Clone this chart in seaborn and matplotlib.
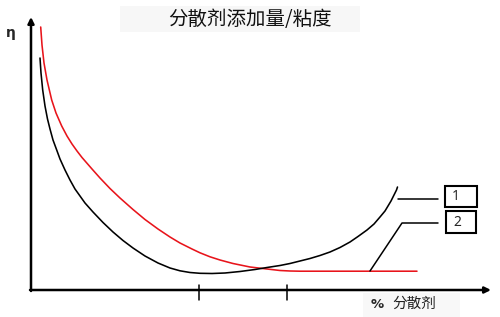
import matplotlib
matplotlib.use("Agg")
import matplotlib.pyplot as plt
import seaborn as sns
import pandas as pd
from matplotlib.patches import Rectangle

sns.set_style("white")
plt.rcParams['font.family'] = ['Noto Sans CJK SC', 'DejaVu Sans']

# Curve 1 (black) (pixel-like units, y downward)
black_x = [40, 41, 42.7, 45, 47.5, 50, 53, 56.7, 60, 65, 70, 75, 85, 93, 103, 113, 123, 133, 145,
           158, 170, 180, 190, 200, 212, 225, 240, 255, 267, 280, 290, 300, 310, 320, 330, 340,
           350, 358, 367, 374, 380, 385, 388, 391, 393, 395, 396.5, 397.5]
black_y = [58, 73, 90, 106, 119, 129, 140, 150, 159, 170, 180, 189, 203, 212, 222.5, 232, 240.5, 248, 256,
           263, 268, 270.8, 272.5, 273.3, 273.5, 273, 271.5, 269.5, 267.5, 265.5, 263.5, 261, 258.5, 255.5, 252, 247.5,
           242, 236.5, 230, 224, 217, 211, 206, 201, 197, 193, 190, 187]
# Curve 2 (red)
red_x = [40.7, 42, 44, 47, 51.7, 56, 61.7, 67, 72, 77, 82, 92, 100, 110, 120, 133, 145, 158, 170,
         180, 192, 200, 210, 220, 233, 250, 267, 280, 290, 300, 417]
red_y = [27, 45, 63, 80, 100, 113, 126, 136, 144, 151, 157.5, 169, 178, 188.5, 198, 209.5, 219.5, 229, 237,
         243, 249, 252.8, 256.8, 260, 263.5, 267, 269, 270.5, 271, 271.2, 271.2]

title = "分散剂添加量/粘度"
y_label = "η"
x_label_pct = "%"
x_label = "分散剂"
legend_labels = ["1", "2"]

fig = plt.figure(figsize=(5.0, 3.17), dpi=100)
ax = fig.add_axes([0, 0, 1, 1])

df1 = pd.DataFrame({"x": black_x, "y": black_y})
df2 = pd.DataFrame({"x": red_x, "y": red_y})
sns.lineplot(data=df2, x="x", y="y", sort=False, color="#e8141b", lw=1.15, ax=ax)
sns.lineplot(data=df1, x="x", y="y", sort=False, color="black", lw=1.15, ax=ax)
ax.set_xlim(0, 500)
ax.set_ylim(317, 0)
ax.axis("off")

# axes arrows
ax.annotate("", xy=(31, 17), xytext=(31, 291),
            arrowprops=dict(arrowstyle="-|>", lw=1.8, color="black", mutation_scale=9, shrinkA=0, shrinkB=0))
ax.annotate("", xy=(491, 290), xytext=(30, 290),
            arrowprops=dict(arrowstyle="-|>", lw=1.8, color="black", mutation_scale=9, shrinkA=0, shrinkB=0))
# ticks
for tx in (199, 287):
    ax.plot([tx, tx], [285, 300], color="black", lw=1.1)

# leader lines
ax.plot([398, 438], [199, 199], color="black", lw=1.1)
ax.plot([370, 402, 438], [271, 223, 223], color="black", lw=1.1)
# legend boxes
ax.add_patch(Rectangle((445, 186), 32, 21, fill=False, ec="black", lw=1.5))
ax.add_patch(Rectangle((446, 211), 30, 22, fill=False, ec="black", lw=1.5))
ax.text(456, 197, legend_labels[0], fontsize=10, ha="center", va="center", family=["Noto Sans", "DejaVu Sans"])
ax.text(457, 222, legend_labels[1], fontsize=10, ha="center", va="center", family=["Noto Sans", "DejaVu Sans"])

# title with light background
ax.add_patch(Rectangle((120, 6), 240, 26, color="#f7f7f7", lw=0, zorder=0))
ax.text(250, 20, title, fontsize=14, ha="center", va="center", color="#111111")

# y label
ax.text(11, 33, y_label, fontsize=10, ha="center", va="center", fontweight="bold", family=["DejaVu Sans"])

# x label
ax.add_patch(Rectangle((363, 293), 97, 24, color="#f8f8f8", lw=0, zorder=0))
ax.text(377, 304, x_label_pct, fontsize=9.5, ha="center", va="center", fontweight="bold", family=["DejaVu Sans"])
ax.text(414, 304, x_label, fontsize=10.5, ha="center", va="center", color="#222222")

fig.savefig("out.png", dpi=100)
